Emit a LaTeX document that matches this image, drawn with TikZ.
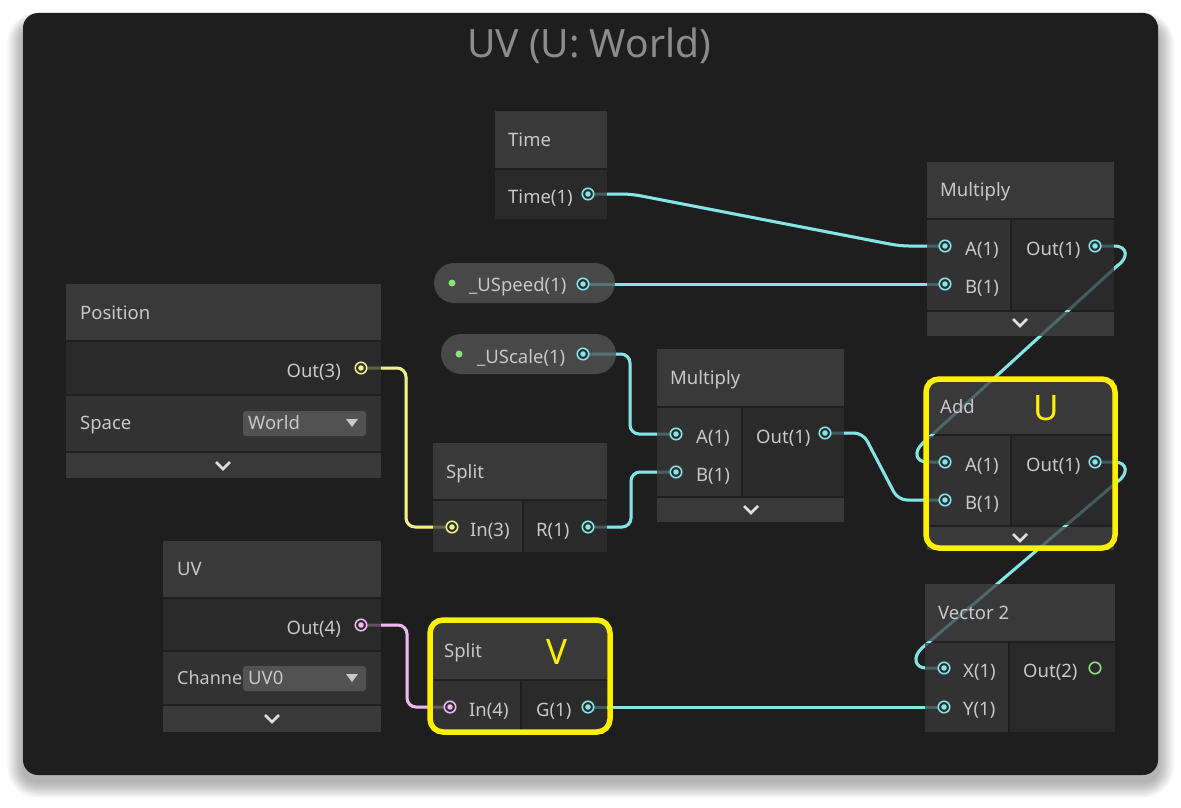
\documentclass[tikz,border=0pt]{standalone}
\usepackage{fontspec}
\setmainfont{Noto Sans}

\definecolor{panel}{RGB}{30,30,30}
\definecolor{head}{RGB}{57,57,57}
\definecolor{incol}{RGB}{50,50,50}
\definecolor{outcol}{RGB}{42,42,42}
\definecolor{txt}{RGB}{200,200,200}
\definecolor{ttl}{RGB}{140,140,140}
\definecolor{wcyan}{RGB}{132,228,232}
\definecolor{wyellow}{RGB}{240,240,140}
\definecolor{wpink}{RGB}{240,184,240}
\definecolor{wgreen}{RGB}{142,224,124}
\definecolor{hilite}{RGB}{255,240,0}
\definecolor{pill}{RGB}{72,72,72}
\definecolor{drop}{RGB}{82,82,82}

\tikzset{
  lbl/.style={anchor=west, inner sep=0pt, text height=13pt, text depth=0pt, text=txt, font=\fontsize{18.5}{22}\selectfont},
  rlbl/.style={lbl, anchor=east},
  hl/.style={inner sep=0pt, text height=25pt, text depth=0pt, text=hilite, font=\fontsize{35}{40}\selectfont},
  wire/.style={line width=3pt, rounded corners=9pt},
  port/.style={circle, inner sep=0pt, minimum size=11.5pt, draw=#1, line width=1.6pt, fill=outcol,
    path picture={\fill[#1] (path picture bounding box.center) circle[radius=2.8pt];}},
  ring/.style={circle, inner sep=0pt, minimum size=11.5pt, draw=wgreen, line width=1.6pt},
  chev/.style={draw=white!88!black, line width=2.6pt},
  hlbox/.style={draw=hilite, line width=5.5pt, rounded corners=13pt}
}

% all connectors, #1 = extra options (second pass is the faint one over the boxes)
\newcommand{\drawwires}[1]{
\draw[wire, wcyan, #1] (tout) -- (631,194) -- (900,246) -- (mulA);
\draw[wire, wcyan, #1] (spdout) -- (mulB);
\draw[wire, wcyan, #1] (sclout) -- (630,354) -- (630,434) -- (mmA);
\draw[wire, wcyan, #1] (rout) -- (631,527) -- (631,472) -- (mmB);
\draw[wire, wcyan, #1] (mmout) -- (863,433) -- (898,500) -- (addB);
\draw[wire, wcyan, sharp corners, #1] (mulout) -- (1114,246) .. controls (1129,246) and (1128,259) .. (1117,266) -- (923,443) .. controls (913,452) and (916,462) .. (927,462) -- (addA);
\draw[wire, wcyan, sharp corners, #1] (addout) -- (1114,462) .. controls (1129,462) and (1128,475) .. (1117,482) -- (922,648) .. controls (912,657) and (915,668) .. (926,668) -- (vecX);
\draw[wire, wcyan, #1] (gout) -- (vecY);
\draw[wire, wyellow, #1] (posout) -- (406,368) -- (406,527) -- (splin);
\draw[wire, wpink, #1] (uvout) -- (407,625) -- (407,707) -- (svin);
}

\begin{document}
\begin{tikzpicture}[x=1pt,y=-1pt]
\useasboundingbox (0,0) rectangle (1181,808);
\fill[white] (0,0) rectangle (1181,808);

% soft shadow and panel
\foreach \i in {1,...,16}{
  \fill[black, opacity=0.018, rounded corners=15+\i] (23-\i,13+12-\i*0.8) rectangle (1158+\i,775+7+\i);
}
\fill[panel, rounded corners=15pt] (23,13) rectangle (1158,775);
\node[font=\fontsize{39}{44}\selectfont, text=ttl] (title) at (589,46) {UV (U: World)};

% port positions
\coordinate (tout) at (588,194);
\coordinate (mulA) at (945,246);
\coordinate (mulB) at (945,284);
\coordinate (mulout) at (1095,246);
\coordinate (spdout) at (583,284);
\coordinate (sclout) at (583,354);
\coordinate (posout) at (361,368);
\coordinate (splin) at (452,527);
\coordinate (rout) at (588,527);
\coordinate (mmA) at (676,434);
\coordinate (mmB) at (676,472);
\coordinate (mmout) at (825,433);
\coordinate (addA) at (945,462);
\coordinate (addB) at (945,500);
\coordinate (addout) at (1095,462);
\coordinate (uvout) at (361,625);
\coordinate (svin) at (450,707);
\coordinate (gout) at (588,707);
\coordinate (vecX) at (944,668);
\coordinate (vecY) at (944,707);
\coordinate (vecout) at (1095,668);

% wires under the boxes
\drawwires{}

% boxes
\fill[head] (495,111) rectangle (607,168);
\fill[outcol] (495,170) rectangle (607,219);

\fill[head] (927,162) rectangle (1114,218);
\fill[incol] (927,220) rectangle (1010,310);
\fill[outcol] (1012,220) rectangle (1114,310);
\fill[head] (927,312) rectangle (1114,336);

\fill[head] (657,349) rectangle (844,406);
\fill[incol] (657,408) rectangle (741,496);
\fill[outcol] (743,408) rectangle (844,496);
\fill[head] (657,498) rectangle (844,522);

\fill[head] (927,379) rectangle (1114,434);
\fill[incol] (927,436) rectangle (1010,525);
\fill[outcol] (1012,436) rectangle (1114,525);
\fill[head] (927,527) rectangle (1114,550);

\fill[head] (433,443) rectangle (607,499);
\fill[incol] (433,501) rectangle (522,552);
\fill[outcol] (524,501) rectangle (607,552);

\fill[head] (432,622) rectangle (607,679);
\fill[incol] (432,681) rectangle (520,730);
\fill[outcol] (522,681) rectangle (607,730);

\fill[head] (66,284) rectangle (381,340);
\fill[outcol] (66,342) rectangle (381,394);
\fill[incol] (66,396) rectangle (381,451);
\fill[head] (66,453) rectangle (381,478);

\fill[head] (163,541) rectangle (381,597);
\fill[outcol] (163,599) rectangle (381,650);
\fill[incol] (163,652) rectangle (381,704);
\fill[head] (163,706) rectangle (381,732);

\fill[head] (925,584) rectangle (1115,641);
\fill[incol] (925,643) rectangle (1008,732);
\fill[outcol] (1010,643) rectangle (1115,732);

% property pills
\fill[pill, rounded corners=20pt] (434,263) rectangle (615,303);
\fill[pill, rounded corners=20pt] (441,334) rectangle (616,374);
\fill[wgreen] (452,283) circle[radius=3.5pt];
\fill[wgreen] (459,354) circle[radius=3.5pt];

% faint wires over the boxes
\drawwires{opacity=0.28}

% dropdowns
\foreach \y in {411, 666}{
  \fill[drop, rounded corners=3pt] (243,\y) rectangle (366,\y+25);
  \fill[txt] (346,\y+8) -- (358,\y+8) -- (352,\y+16) -- cycle;
}

% collapse arrows
\foreach \x/\y in {223/466, 272/719, 1020/323, 751/510, 1020/538}{
  \draw[chev] (\x-7,\y-4) -- (\x,\y+3) -- (\x+7,\y-4);
}

% text
\node[lbl] (time-t) at (508,140) {Time};
\node[lbl] (time-o) at (508,197) {Time(1)};
\node[lbl] (mul-t) at (940,190) {Multiply};
\node[lbl] (mul-a) at (965,249) {A(1)};
\node[lbl] (mul-b) at (965,287) {B(1)};
\node[lbl] (mul-o) at (1026,249) {Out(1)};
\node[lbl] (spd-t) at (469,285) {\_USpeed(1)};
\node[lbl] (scl-t) at (477,357) {\_UScale(1)};
\node[lbl] (pos-t) at (80,313) {Position};
\node[rlbl] (pos-o) at (341,371) {Out(3)};
\node[lbl] (pos-s) at (80,423) {Space};
\node[lbl] (pos-w) at (248,423) {World};
\node[lbl] (spl-t) at (446,472) {Split};
\node[lbl] (spl-i) at (470,530) {In(3)};
\node[lbl] (spl-r) at (536,530) {R(1)};
\node[lbl] (mm-t) at (670,378) {Multiply};
\node[lbl] (mm-a) at (696,437) {A(1)};
\node[lbl] (mm-b) at (696,475) {B(1)};
\node[lbl] (mm-o) at (756,437) {Out(1)};
\node[lbl] (add-t) at (940,407) {Add};
\node[lbl] (add-a) at (965,465) {A(1)};
\node[lbl] (add-b) at (965,503) {B(1)};
\node[lbl] (add-o) at (1026,465) {Out(1)};
\node[lbl] (uv-t) at (177,569) {UV};
\node[rlbl] (uv-o) at (341,628) {Out(4)};
\node[lbl, font=\fontsize{18}{22}\selectfont] (uv-c) at (177,678) {Channe};
\node[lbl] (uv-d) at (248,678) {UV0};
\node[lbl] (sv-t) at (444,651) {Split};
\node[lbl] (sv-i) at (469,710) {In(4)};
\node[lbl] (sv-g) at (536,710) {G(1)};
\node[lbl] (vec-t) at (938,613) {Vector 2};
\node[lbl] (vec-x) at (963,671) {X(1)};
\node[lbl] (vec-y) at (963,709) {Y(1)};
\node[lbl] (vec-o) at (1023,671) {Out(2)};

% ports
\foreach \p in {tout,mulA,mulB,mulout,spdout,sclout,rout,mmA,mmB,mmout,addA,addB,addout,gout,vecX,vecY}{
  \node[port=wcyan] (\p-dot) at (\p) {};
}
\node[port=wyellow] (posout-dot) at (posout) {};
\node[port=wyellow] (splin-dot) at (splin) {};
\node[port=wpink] (uvout-dot) at (uvout) {};
\node[port=wpink] (svin-dot) at (svin) {};
\node[ring] (vecout-dot) at (vecout) {};

% highlights
\draw[hlbox] (926,379) rectangle (1115,548);
\draw[hlbox] (430,620) rectangle (610,732);
\node[hl] (u-mark) at (1046,408) {U};
\node[hl] (v-mark) at (557,652) {V};
\end{tikzpicture}
\end{document}
